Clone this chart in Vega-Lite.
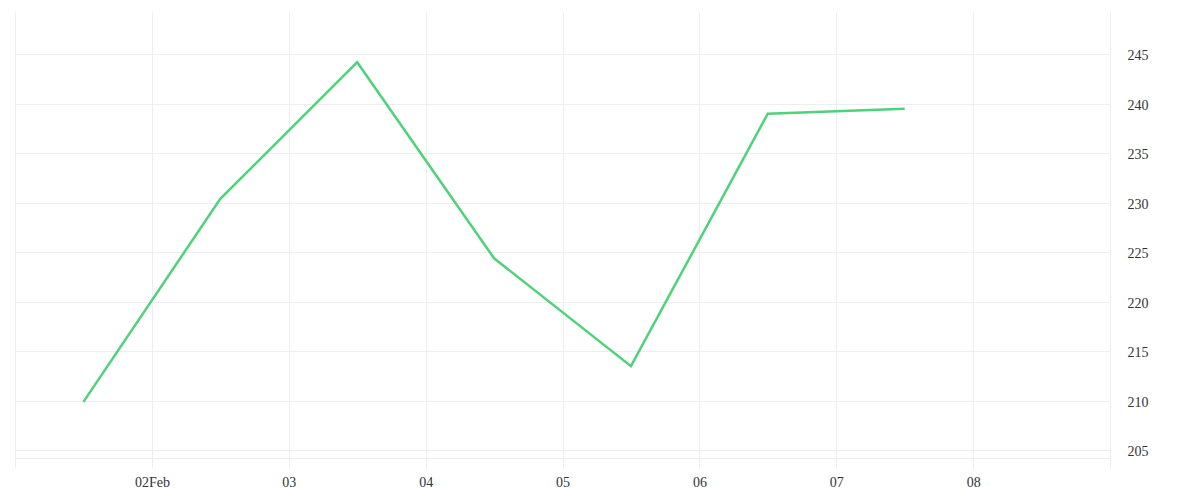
{
  "$schema": "https://vega.github.io/schema/vega-lite/v6.json",
  "width": 1095,
  "height": 446,
  "autosize": "none",
  "padding": {"left": 15, "top": 12, "right": 90, "bottom": 42},
  "background": "white",
  "config": {
    "view": {"stroke": null},
    "font": "Liberation Serif"
  },
  "data": {
    "values": [
      {"date": "2024-02-01T12:00:00", "value": 209.9},
      {"date": "2024-02-02T12:00:00", "value": 230.4},
      {"date": "2024-02-03T12:00:00", "value": 244.2},
      {"date": "2024-02-04T12:00:00", "value": 224.4},
      {"date": "2024-02-05T12:00:00", "value": 213.5},
      {"date": "2024-02-06T12:00:00", "value": 239.0},
      {"date": "2024-02-07T12:00:00", "value": 239.5}
    ]
  },
  "mark": {"type": "line", "color": "#4ed27a", "strokeWidth": 2.5},
  "encoding": {
    "x": {
      "field": "date",
      "type": "temporal",
      "scale": {"domain": ["2024-02-01T00:00:00", "2024-02-09T00:00:00"], "nice": false},
      "axis": {
        "title": null,
        "values": ["2024-02-01T00:00:00", "2024-02-02T00:00:00", "2024-02-03T00:00:00", "2024-02-04T00:00:00", "2024-02-05T00:00:00", "2024-02-06T00:00:00", "2024-02-07T00:00:00", "2024-02-08T00:00:00", "2024-02-09T00:00:00"],
        "labelExpr": "date(datum.value) == 1 || date(datum.value) == 9 ? '' : date(datum.value) == 2 ? timeFormat(datum.value, '%dFeb') : timeFormat(datum.value, '%d')",
        "grid": true,
        "gridColor": "#eeeeee",
        "domainColor": "#eeeeee",
        "tickColor": "#eeeeee",
        "tickSize": 10,
        "labelFontSize": 14,
        "labelColor": "#333333",
        "labelPadding": 7,
        "labelFont": "Liberation Serif"
      }
    },
    "y": {
      "field": "value",
      "type": "quantitative",
      "scale": {"domain": [204.23, 249.27], "nice": false, "zero": false},
      "axis": {
        "title": null,
        "orient": "right",
        "values": [205, 210, 215, 220, 225, 230, 235, 240, 245],
        "grid": true,
        "gridColor": "#eeeeee",
        "domain": false,
        "ticks": false,
        "labelPadding": 17,
        "labelOffset": 1.5,
        "labelFontSize": 14,
        "labelColor": "#333333",
        "labelFont": "Liberation Serif"
      }
    }
  }
}
